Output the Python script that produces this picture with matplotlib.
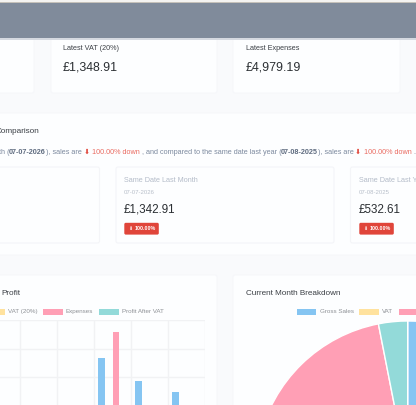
import matplotlib
matplotlib.use("Agg")
import matplotlib.pyplot as plt
from matplotlib.patches import Rectangle, FancyBboxPatch

W, H = 416, 405

# values
categories = ["Jan", "Feb", "Mar", "Apr", "May", "Jun"]
gross_sales = [0, 0, 0, 4077, 3260, 2884]
vat = [0, 0, 0, 815, 652, 577]
expenses = [0, 0, 0, 4979, 0, 0]
profit_after_vat = [0, 0, 0, 0, 0, 0]
y_top = 5400
y_step = 1000

pie_labels = ["Gross Sales", "VAT", "Expenses", "Profit After VAT"]
pie_values = [6744.55, 1348.91, 4979.19, 416.45]

BLUE = "#85c5f2"
YELLOW = "#ffe29e"
PINK = "#ff9fb5"
TEAL = "#93dad9"
PAGE = "#f9fafc"
CARD = "#fdfeff"
RED = "#e0453a"

plt.rcParams["font.family"] = ["Liberation Sans", "DejaVu Sans"]

fig = plt.figure(figsize=(W / 100, H / 100), dpi=100, facecolor=PAGE)

# page layer, in pixels
page = fig.add_axes([0, 0, 1, 1])
page.set_xlim(0, W)
page.set_ylim(H, 0)
page.axis("off")


def card(x0, y0, x1, y1, edge="#f6f7fa", fc=CARD):
    page.add_patch(FancyBboxPatch((x0, y0), x1 - x0, y1 - y0, boxstyle="round,pad=0,rounding_size=2",
                                  fc=fc, ec=edge, lw=0.8))


def txt(x, y, s, size, color="#3b3f45", **kw):
    page.text(x, y, s, fontsize=size, color=color, va="center", **kw)


# top cards, their tops run under the grey bar
card(-10, 30, 34, 93)
card(51, 30, 217, 93)
card(233, 30, 400, 93)

page.add_patch(Rectangle((0, 0), W, 1.5, fc="#f4f3f1", ec="none", zorder=3))
page.add_patch(Rectangle((0, 1.5), W, 1.5, fc="#c5c1ba", ec="none", zorder=3))
page.add_patch(Rectangle((0, 3), W, 35, fc="#808b9b", ec="none", zorder=3))
page.add_patch(Rectangle((0, 38), W, 1.5, fc="#d5d9e0", ec="none", zorder=3))

txt(63, 49, "Latest VAT (20%)", 5.2)
txt(63, 68, "£1,348.91", 8.9, "#2b2f33")
txt(246, 49, "Latest Expenses", 5.2)
txt(246, 68, "£4,979.19", 8.9, "#2b2f33")

# comparison panel
card(-10, 113, 426, 255)
txt(-4, 131.5, "Comparison", 5.85)
sent_y = 152
muted = "#7d8a9f"
txt(-1, sent_y, "th (", 5.25, muted)
txt(8.5, sent_y, "07-07-2026", 5.25, "#5f6c80", fontweight="bold")
txt(46.5, sent_y, "), sales are", 5.25, muted)
txt(84, sent_y, "⬇", 5.2, RED, family="DejaVu Sans")
txt(92.5, sent_y, "100.00% down", 5.25, "#ea6a60")
txt(141.5, sent_y, ", and compared to the same date last year (", 5.25, muted)
txt(280.5, sent_y, "07-08-2025", 5.25, "#5f6c80", fontweight="bold")
txt(318, sent_y, "), sales are", 5.25, muted)
txt(355, sent_y, "⬇", 5.2, RED, family="DejaVu Sans")
txt(364, sent_y, "100.00% down", 5.25, "#ea6a60")
txt(413.5, sent_y, ".", 5.25, muted)

card(-10, 167, 99.5, 243, edge="#f4f5f8")
card(116, 167, 334, 243, edge="#f4f5f8")
card(350.5, 167, 430, 243, edge="#f4f5f8")
for x, head, date, amount in [(124, "Same Date Last Month", "07-07-2026", "£1,342.91"),
                              (359, "Same Date Last Year", "07-08-2025", "£532.61")]:
    txt(x, 181, head, 5.2, "#b4bcc9")
    txt(x, 192.7, date, 4.3, "#b8bfca")
    txt(x, 210, amount, 8.4, "#2b2f33")
    page.add_patch(FancyBboxPatch((x + 0.3, 222.8), 34.5, 11.8, boxstyle="round,pad=0,rounding_size=1.5",
                                  fc=RED, ec="none"))
    txt(x + 3.7, 228.5, "⬇", 3.6, "white", family="DejaVu Sans")
    txt(x + 10.5, 228.5, "100.00%", 3.9, "white", fontweight="bold")

# chart cards
card(-10, 275, 217, 430)
card(233, 275, 426, 430)
txt(1.5, 293.5, "Profit", 5.85)
txt(246, 293.5, "Current Month Breakdown", 5.85)


def legend_item(x0, x1, color, label, text_x):
    page.add_patch(Rectangle((x0, 308.8), x1 - x0, 6.2, fc=color, ec="none"))
    if text_x < W:
        txt(text_x, 311.8, label, 4.5, "#8f9297")


legend_item(-6, 4.5, YELLOW, "VAT (20%)", 7.5)
legend_item(42.5, 63, PINK, "Expenses", 66)
legend_item(98.5, 119, TEAL, "Profit After VAT", 122)
legend_item(296.5, 316, BLUE, "Gross Sales", 320)
legend_item(359, 378.5, YELLOW, "VAT", 382)
legend_item(399, 420, PINK, "Expenses", 424)

# bar chart, axes placed in pixels, bottom is cut by the screenshot
ax = fig.add_axes([0, 0, 205 / W, (H - 320) / H])
ax.patch.set_alpha(0)
xs = list(range(len(categories)))
w = 0.175
ax.bar([x - 0.295 for x in xs], gross_sales, w, color=BLUE, label="Gross Sales")
ax.bar([x - 0.1 for x in xs], vat, w, color=YELLOW, label="VAT (20%)")
ax.bar([x + 0.095 for x in xs], expenses, w, color=PINK, label="Expenses")
ax.bar([x + 0.295 for x in xs], profit_after_vat, w, color=TEAL, label="Profit After VAT")
ax.set_xlim(-0.04, 5.5)
ax.set_ylim(y_top - 85 / 28.5 * y_step, y_top)
ax.set_xticks([x + 0.5 for x in xs])
ax.set_yticks([y_top - i * y_step for i in range(3)])
ax.set_xticklabels([])
ax.set_yticklabels([])
ax.tick_params(length=0)
ax.grid(True, color="#f1f2f4", lw=1)
ax.set_axisbelow(True)
for s in ax.spines.values():
    s.set_visible(False)

# pie, runs off the figure at the bottom and right
r = 152
pie_ax = fig.add_axes([(407.7 - r) / W, (H - 473 - r) / H, 2 * r / W, 2 * r / H])
pie_ax.pie(pie_values, colors=[BLUE, YELLOW, PINK, TEAL], startangle=90, counterclock=False, radius=1,
           wedgeprops={"edgecolor": "white", "linewidth": 1})
pie_ax.set_xlim(-1, 1)
pie_ax.set_ylim(-1, 1)

fig.savefig("out.png", dpi=100, facecolor=PAGE)
